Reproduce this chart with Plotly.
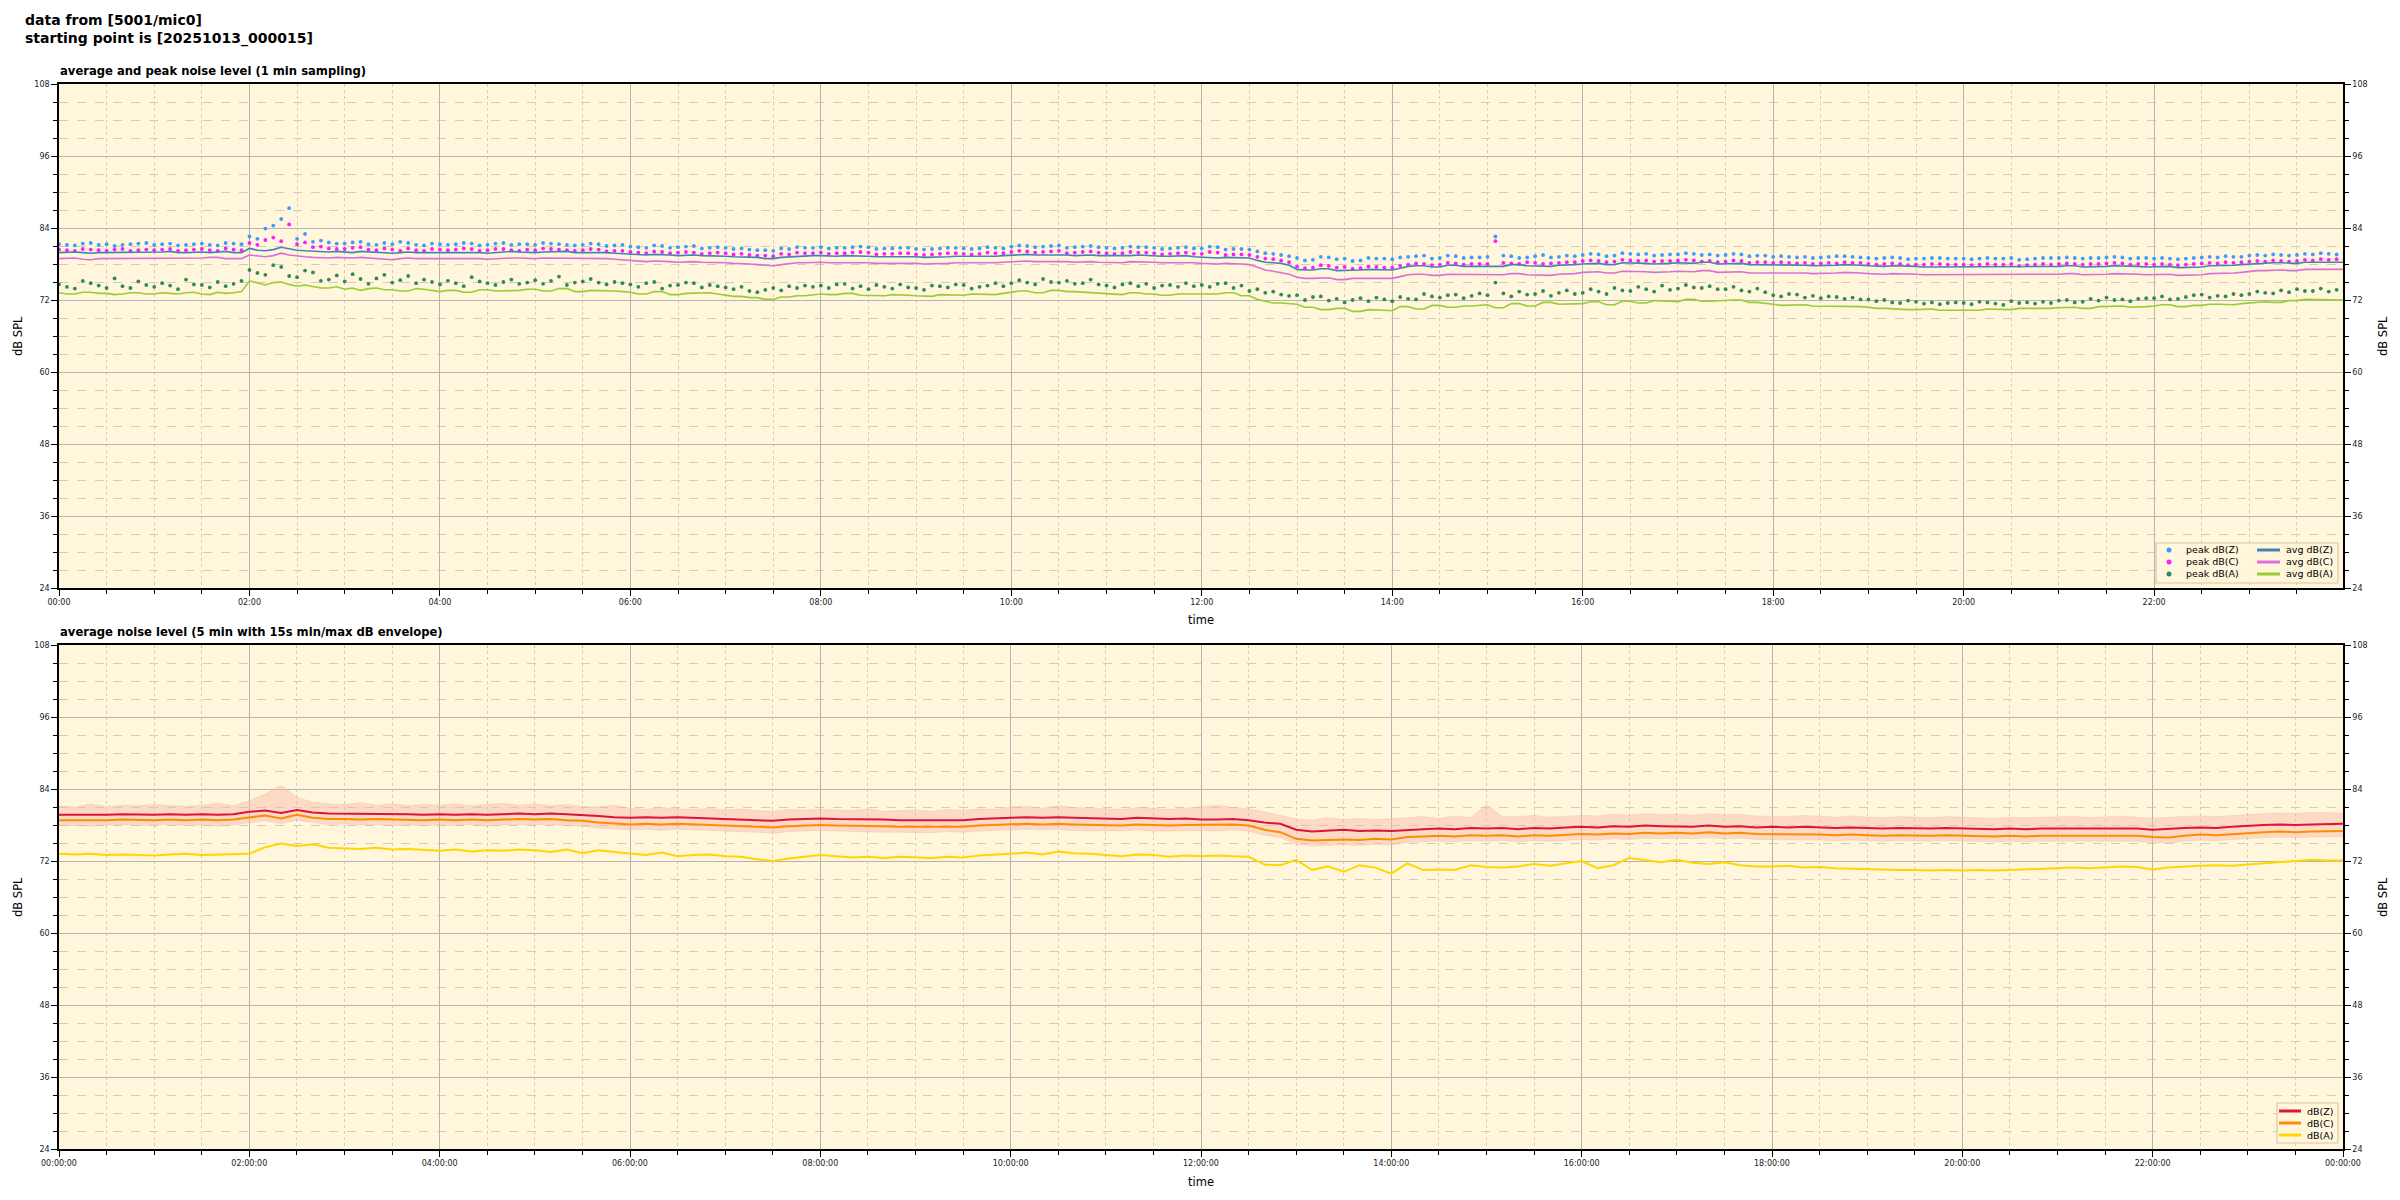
import pandas as pd
import plotly.graph_objects as go

W, H = 2400, 1200

# | data section |
# top panel : 5 min steps, bottom panel : 10 min steps (00:00 -> 24:00)
times5 = pd.date_range("2025-10-13 00:00", "2025-10-14 00:00", freq="5min")
times10 = pd.date_range("2025-10-13 00:00", "2025-10-14 00:00", freq="10min")

peak_z = [
    81.3, 81.2, 81.1, 81.4, 81.5, 81.2, 81.3, 81.0, 81.2, 81.3, 81.4, 81.5,
    81.2, 81.3, 81.4, 81.1, 81.2, 81.3, 81.4, 81.2, 81.1, 81.5, 81.4, 81.3,
    82.6, 82.2, 83.9, 84.4, 85.5, 87.3, 82.2, 83.0, 81.7, 81.9, 81.6, 81.4,
    81.4, 81.6, 81.7, 81.3, 81.2, 81.5, 81.3, 81.7, 81.5, 81.2, 81.1, 81.4,
    81.3, 81.2, 81.3, 81.5, 81.4, 81.1, 81.2, 81.4, 81.5, 81.2, 81.3, 81.3,
    81.2, 81.5, 81.4, 81.3, 81.2, 81.1, 81.2, 81.4, 81.3, 81.0, 81.1, 81.2,
    80.9, 80.8, 80.7, 81.1, 81.0, 80.7, 80.8, 80.9, 81.0, 80.6, 80.7, 80.8,
    80.7, 80.5, 80.6, 80.4, 80.3, 80.3, 80.2, 80.6, 80.5, 80.8, 80.7, 80.7,
    80.8, 80.6, 80.7, 80.7, 80.8, 80.9, 80.8, 80.5, 80.6, 80.6, 80.7, 80.7,
    80.5, 80.4, 80.5, 80.6, 80.7, 80.7, 80.6, 80.5, 80.6, 80.8, 80.7, 80.6,
    80.9, 81.1, 81.0, 80.8, 80.9, 81.0, 81.1, 80.7, 80.8, 80.9, 81.0, 80.8,
    80.7, 80.6, 80.7, 80.9, 80.8, 80.8, 80.7, 80.5, 80.6, 80.7, 80.8, 80.6,
    80.6, 80.9, 80.8, 80.4, 80.5, 80.5, 80.4, 80.1, 79.8, 79.7, 79.5, 79.3,
    79.0, 78.6, 78.7, 79.2, 79.1, 78.8, 78.9, 78.5, 78.6, 79.0, 78.9, 78.9,
    78.8, 79.1, 79.2, 79.3, 79.4, 78.9, 79.0, 79.4, 79.3, 79.0, 79.1, 79.1,
    79.2, 82.6, 79.4, 79.3, 79.0, 79.1, 79.3, 79.5, 79.1, 79.2, 79.4, 79.3,
    79.5, 79.7, 79.6, 79.3, 79.4, 79.8, 79.7, 79.6, 79.7, 79.4, 79.5, 79.6,
    79.6, 79.8, 79.7, 79.5, 79.6, 79.4, 79.5, 79.7, 79.6, 79.3, 79.4, 79.4,
    79.2, 79.3, 79.2, 79.1, 79.2, 79.0, 79.1, 79.2, 79.3, 79.3, 79.2, 79.1,
    79.0, 78.9, 79.0, 79.1, 79.0, 78.8, 78.9, 78.9, 79.0, 79.0, 78.9, 78.9,
    78.9, 78.8, 78.9, 79.0, 78.9, 78.9, 79.0, 78.7, 78.8, 78.9, 79.0, 79.0,
    79.0, 79.1, 79.0, 78.9, 79.0, 79.0, 79.1, 79.2, 79.1, 78.9, 79.0, 79.0,
    78.9, 79.0, 78.9, 78.8, 78.9, 79.0, 79.1, 79.2, 79.1, 79.3, 79.2, 79.2,
    79.4, 79.5, 79.4, 79.6, 79.5, 79.4, 79.5, 79.7, 79.6, 79.8, 79.7, 79.6, 79.8,
]
peak_c = [
    80.4, 80.3, 80.2, 80.5, 80.4, 80.3, 80.2, 80.4, 80.5, 80.2, 80.3, 80.4,
    80.3, 80.4, 80.5, 80.2, 80.3, 80.4, 80.5, 80.3, 80.2, 80.6, 80.4, 80.3,
    81.5, 81.2, 82.0, 82.4, 81.8, 84.6, 81.3, 81.6, 80.8, 80.9, 80.6, 80.5,
    80.5, 80.7, 80.8, 80.4, 80.3, 80.6, 80.4, 80.2, 80.6, 80.3, 80.2, 80.5,
    80.4, 80.3, 80.4, 80.6, 80.5, 80.2, 80.3, 80.5, 80.5, 80.3, 80.2, 80.4,
    80.3, 80.6, 80.5, 80.4, 80.3, 80.2, 80.3, 80.5, 80.4, 80.1, 80.2, 80.2,
    80.0, 79.9, 79.8, 80.1, 80.0, 79.8, 79.9, 80.0, 79.9, 79.7, 79.8, 79.9,
    79.8, 79.6, 79.7, 79.5, 79.4, 79.4, 79.3, 79.7, 79.6, 79.9, 79.8, 79.8,
    79.9, 79.7, 79.8, 79.8, 79.9, 80.0, 79.9, 79.6, 79.7, 79.7, 79.8, 79.8,
    79.6, 79.5, 79.6, 79.7, 79.8, 79.8, 79.7, 79.6, 79.7, 79.9, 79.8, 79.8,
    80.0, 80.2, 80.1, 79.9, 80.0, 80.1, 80.2, 79.8, 79.9, 80.0, 80.1, 79.9,
    79.8, 79.7, 79.8, 80.0, 79.9, 79.9, 79.8, 79.6, 79.7, 79.8, 79.9, 79.7,
    79.7, 80.0, 79.9, 79.5, 79.6, 79.6, 79.5, 79.2, 78.9, 78.8, 78.6, 78.3,
    77.6, 77.3, 77.4, 77.8, 77.7, 77.4, 77.5, 77.2, 77.3, 77.6, 77.5, 77.4,
    77.4, 77.7, 77.9, 78.1, 78.0, 77.8, 77.9, 78.2, 78.1, 77.9, 78.0, 78.0,
    78.0, 81.8, 78.2, 78.1, 78.0, 78.3, 78.2, 78.0, 78.1, 78.2, 78.3, 78.3,
    78.5, 78.6, 78.5, 78.3, 78.4, 78.7, 78.6, 78.5, 78.6, 78.4, 78.5, 78.5,
    78.6, 78.7, 78.6, 78.4, 78.5, 78.3, 78.4, 78.6, 78.5, 78.2, 78.3, 78.3,
    78.2, 78.3, 78.2, 78.1, 78.2, 78.0, 78.1, 78.2, 78.1, 78.3, 78.2, 78.2,
    78.0, 77.9, 78.0, 78.1, 78.0, 77.8, 77.9, 77.9, 78.0, 78.0, 77.9, 77.9,
    77.9, 77.8, 77.9, 78.0, 77.9, 77.9, 78.0, 77.7, 77.8, 77.9, 78.0, 77.9,
    78.0, 78.1, 78.0, 77.9, 78.0, 78.0, 78.1, 78.2, 78.1, 77.9, 78.0, 78.0,
    77.9, 78.0, 77.9, 77.8, 77.9, 78.0, 78.1, 78.2, 78.1, 78.3, 78.2, 78.3,
    78.4, 78.5, 78.4, 78.6, 78.5, 78.4, 78.5, 78.7, 78.6, 78.8, 78.7, 78.8, 78.8,
]
peak_a = [
    74.6, 74.2, 73.9, 75.2, 74.8, 74.4, 74.0, 75.6, 74.3, 74.0, 75.1, 74.5,
    74.2, 74.8, 74.4, 73.8, 75.4, 74.6, 74.5, 74.1, 75.0, 74.3, 74.7, 75.2,
    77.0, 76.5, 76.2, 77.8, 77.5, 76.0, 75.8, 76.9, 76.6, 75.2, 75.4, 76.1,
    75.1, 76.3, 75.5, 74.7, 75.6, 76.2, 74.9, 75.3, 76.0, 74.8, 75.4, 75.0,
    74.6, 75.2, 74.8, 74.3, 75.8, 75.1, 74.8, 74.5, 75.0, 75.4, 74.7, 74.9,
    75.3, 74.7, 75.2, 75.9, 74.5, 74.9, 75.1, 75.5, 74.9, 74.6, 75.0, 74.8,
    74.6, 74.2, 74.8, 75.0, 73.9, 74.4, 74.5, 74.9, 74.8, 74.1, 74.5, 74.3,
    74.1, 73.8, 74.2, 73.5, 73.3, 73.7, 74.0, 73.6, 74.3, 74.0, 74.4, 74.2,
    74.4, 74.0, 74.6, 74.7, 73.9, 74.3, 73.8, 74.5, 74.2, 73.9, 74.6, 74.1,
    74.0, 73.7, 74.4, 74.3, 74.1, 74.6, 74.5, 73.9, 74.2, 74.4, 74.8, 74.3,
    74.8, 75.3, 74.9, 74.6, 75.5, 75.0, 74.9, 75.2, 74.7, 74.8, 75.4, 74.6,
    74.4, 74.1, 74.6, 74.8, 74.3, 74.7, 74.0, 74.4, 74.5, 74.2, 74.8, 74.3,
    74.5, 74.2, 74.7, 74.8, 74.0, 74.4, 73.5, 73.8, 73.2, 73.4, 72.9, 72.7,
    72.8, 72.0, 72.5, 72.6, 71.9, 72.2, 71.6, 72.0, 72.3, 71.8, 72.4, 72.1,
    71.8, 72.5, 72.2, 72.1, 73.0, 72.6, 72.4, 72.8, 72.9, 72.3, 72.7, 73.1,
    72.8, 74.9, 73.1, 72.6, 73.4, 72.9, 73.0, 73.5, 72.7, 73.2, 73.6, 73.0,
    73.2, 73.8, 73.4, 73.0, 74.0, 73.6, 73.5, 74.2, 73.8, 73.4, 74.4, 73.7,
    73.9, 74.5, 74.1, 74.0, 74.3, 73.8, 73.8, 74.2, 73.6, 73.4, 73.9, 73.3,
    72.8, 72.6, 73.0, 72.9, 72.4, 72.7, 72.3, 72.6, 72.5, 72.2, 72.4, 72.1,
    72.1, 71.8, 72.0, 71.6, 71.5, 71.9, 71.7, 71.4, 71.6, 71.3, 71.5, 71.6,
    71.5, 71.3, 71.7, 71.6, 71.4, 71.2, 71.8, 71.5, 71.6, 71.4, 71.7, 71.5,
    71.9, 72.0, 71.6, 71.7, 72.2, 71.9, 72.4, 72.0, 72.1, 71.8, 72.2, 72.3,
    72.3, 72.6, 72.1, 72.2, 72.5, 72.8, 72.9, 72.4, 72.7, 72.6, 73.0, 72.8,
    73.0, 73.4, 73.2, 73.1, 73.6, 73.3, 73.8, 73.5, 73.5, 73.9, 73.4, 73.7, 73.5,
]
avg_z = [
    79.9, 80.0, 80.0, 79.9, 79.8, 79.9, 79.9, 80.0, 80.0, 79.9, 79.9, 80.0,
    79.9, 80.0, 80.1, 79.9, 79.9, 80.0, 80.0, 79.9, 80.0, 80.1, 79.9, 79.9,
    80.6, 80.3, 80.2, 80.4, 80.8, 80.5, 80.3, 80.2, 80.1, 80.0, 80.0, 80.1,
    80.0, 79.9, 80.1, 80.0, 79.9, 79.8, 79.8, 79.9, 80.0, 79.9, 79.9, 80.0,
    80.0, 79.9, 79.9, 80.0, 80.0, 79.9, 79.8, 79.9, 80.0, 80.1, 80.0, 79.9,
    79.9, 80.0, 80.0, 80.1, 80.1, 79.9, 79.9, 80.0, 80.0, 79.9, 79.8, 79.7,
    79.6, 79.5, 79.5, 79.6, 79.6, 79.5, 79.4, 79.5, 79.5, 79.4, 79.4, 79.3,
    79.3, 79.2, 79.2, 79.1, 79.1, 78.9, 78.9, 79.1, 79.2, 79.3, 79.3, 79.4,
    79.4, 79.3, 79.3, 79.4, 79.4, 79.3, 79.3, 79.2, 79.2, 79.3, 79.3, 79.2,
    79.2, 79.1, 79.1, 79.2, 79.2, 79.3, 79.3, 79.2, 79.2, 79.3, 79.3, 79.4,
    79.5, 79.6, 79.6, 79.5, 79.5, 79.6, 79.6, 79.5, 79.4, 79.5, 79.5, 79.4,
    79.4, 79.3, 79.3, 79.4, 79.5, 79.4, 79.4, 79.3, 79.3, 79.4, 79.4, 79.2,
    79.1, 79.0, 79.0, 79.1, 79.1, 79.0, 79.0, 78.6, 78.3, 78.2, 78.1, 77.8,
    77.1, 77.0, 77.0, 77.2, 77.2, 76.9, 76.9, 77.0, 77.0, 77.1, 77.1, 77.0,
    77.0, 77.3, 77.6, 77.7, 77.7, 77.5, 77.5, 77.8, 77.8, 77.6, 77.6, 77.7,
    77.7, 77.6, 77.6, 77.9, 77.9, 77.7, 77.7, 77.6, 77.6, 77.8, 77.8, 77.9,
    78.0, 78.1, 78.1, 77.9, 77.9, 78.2, 78.2, 78.1, 78.1, 78.0, 78.0, 78.1,
    78.2, 78.1, 78.1, 78.3, 78.3, 78.0, 78.0, 78.1, 78.1, 77.9, 77.9, 77.8,
    77.8, 77.9, 77.9, 77.8, 77.8, 77.7, 77.7, 77.8, 77.8, 77.9, 77.9, 77.8,
    77.7, 77.6, 77.6, 77.7, 77.7, 77.6, 77.6, 77.5, 77.5, 77.6, 77.6, 77.6,
    77.6, 77.5, 77.5, 77.6, 77.6, 77.5, 77.5, 77.6, 77.6, 77.5, 77.5, 77.6,
    77.6, 77.7, 77.7, 77.5, 77.5, 77.6, 77.6, 77.7, 77.7, 77.6, 77.6, 77.5,
    77.5, 77.6, 77.6, 77.4, 77.4, 77.5, 77.5, 77.7, 77.7, 77.8, 77.8, 77.9,
    78.0, 78.1, 78.1, 78.2, 78.2, 78.1, 78.1, 78.3, 78.3, 78.3, 78.3, 78.3, 78.3,
]
avg_c = [
    78.9, 79.0, 79.0, 78.8, 78.7, 78.9, 78.9, 79.0, 79.0, 78.9, 78.9, 79.0,
    78.9, 79.0, 79.0, 78.9, 78.9, 79.0, 79.0, 79.1, 79.1, 78.9, 78.9, 78.9,
    79.5, 79.3, 79.2, 79.4, 79.8, 79.5, 79.3, 79.2, 79.1, 79.0, 79.0, 79.1,
    79.0, 79.0, 79.1, 79.0, 78.9, 78.8, 78.7, 78.9, 79.0, 78.9, 78.9, 79.0,
    79.0, 78.9, 78.9, 79.0, 79.0, 78.9, 78.8, 78.9, 79.0, 79.0, 79.0, 78.9,
    78.9, 79.0, 79.0, 79.0, 79.0, 78.9, 78.9, 79.0, 79.0, 78.9, 78.8, 78.7,
    78.5, 78.4, 78.4, 78.5, 78.5, 78.4, 78.3, 78.4, 78.4, 78.3, 78.3, 78.2,
    78.2, 78.1, 78.1, 78.0, 77.9, 77.8, 77.7, 77.9, 78.1, 78.2, 78.2, 78.3,
    78.3, 78.2, 78.2, 78.3, 78.3, 78.2, 78.2, 78.1, 78.1, 78.2, 78.2, 78.1,
    78.1, 78.0, 78.0, 78.1, 78.1, 78.2, 78.2, 78.1, 78.1, 78.2, 78.2, 78.3,
    78.4, 78.5, 78.5, 78.4, 78.4, 78.5, 78.5, 78.4, 78.3, 78.4, 78.4, 78.3,
    78.3, 78.2, 78.2, 78.4, 78.4, 78.3, 78.3, 78.2, 78.2, 78.3, 78.3, 78.2,
    78.1, 78.0, 78.0, 78.1, 78.1, 78.0, 77.9, 77.4, 77.0, 76.8, 76.6, 76.3,
    75.8, 75.6, 75.6, 75.7, 75.7, 75.4, 75.4, 75.6, 75.6, 75.7, 75.7, 75.6,
    75.6, 75.9, 76.2, 76.3, 76.3, 76.1, 76.1, 76.3, 76.3, 76.2, 76.2, 76.3,
    76.3, 76.2, 76.2, 76.4, 76.4, 76.2, 76.2, 76.1, 76.1, 76.3, 76.3, 76.4,
    76.6, 76.7, 76.7, 76.5, 76.5, 76.8, 76.8, 76.7, 76.7, 76.6, 76.6, 76.7,
    76.8, 76.7, 76.7, 76.9, 76.9, 76.6, 76.6, 76.7, 76.7, 76.5, 76.5, 76.5,
    76.5, 76.6, 76.6, 76.5, 76.5, 76.4, 76.4, 76.5, 76.5, 76.6, 76.6, 76.5,
    76.4, 76.3, 76.3, 76.4, 76.4, 76.3, 76.3, 76.2, 76.2, 76.3, 76.3, 76.3,
    76.3, 76.2, 76.2, 76.3, 76.3, 76.2, 76.2, 76.3, 76.3, 76.2, 76.2, 76.3,
    76.3, 76.4, 76.4, 76.2, 76.2, 76.3, 76.3, 76.4, 76.4, 76.3, 76.3, 76.2,
    76.2, 76.3, 76.3, 76.1, 76.1, 76.2, 76.2, 76.4, 76.4, 76.5, 76.5, 76.6,
    76.8, 76.9, 76.9, 77.0, 77.0, 76.9, 76.9, 77.1, 77.1, 77.1, 77.1, 77.1, 77.1,
]
avg_a = [
    73.2, 73.0, 73.0, 73.3, 73.3, 73.1, 73.1, 72.9, 73.0, 73.2, 73.2, 73.0,
    73.0, 73.2, 73.1, 73.0, 73.2, 73.3, 73.0, 72.9, 73.3, 73.1, 73.2, 73.4,
    75.2, 74.8, 74.5, 74.9, 75.0, 74.6, 74.3, 74.5, 74.2, 74.0, 74.0, 74.2,
    73.8, 74.0, 73.6, 73.9, 74.0, 73.7, 73.7, 73.5, 73.5, 73.9, 73.8, 73.6,
    73.4, 73.6, 73.6, 73.3, 73.3, 73.7, 73.7, 73.5, 73.5, 73.6, 73.6, 73.8,
    73.8, 73.5, 73.5, 73.9, 73.9, 73.4, 73.4, 73.6, 73.6, 73.5, 73.5, 73.4,
    73.3, 73.0, 73.0, 73.4, 73.4, 72.9, 72.9, 73.1, 73.1, 73.2, 73.2, 73.0,
    72.8, 72.6, 72.6, 72.4, 72.4, 72.1, 72.1, 72.5, 72.5, 72.7, 72.7, 72.9,
    73.0, 72.9, 72.9, 73.1, 73.1, 72.8, 72.8, 72.7, 72.7, 72.9, 72.9, 72.8,
    72.7, 72.6, 72.6, 72.9, 72.9, 72.8, 72.8, 73.0, 73.0, 72.9, 72.9, 73.1,
    73.3, 73.5, 73.5, 73.2, 73.2, 73.6, 73.6, 73.4, 73.4, 73.3, 73.3, 73.2,
    73.1, 72.9, 72.9, 73.2, 73.2, 73.0, 73.0, 72.8, 72.8, 73.0, 73.0, 73.1,
    73.1, 73.0, 73.0, 73.2, 73.2, 72.7, 72.7, 72.1, 71.8, 71.5, 71.5, 71.4,
    71.3, 70.8, 70.8, 70.4, 70.4, 70.6, 70.6, 70.1, 70.1, 70.4, 70.4, 70.3,
    70.2, 70.9, 70.9, 70.5, 70.5, 71.1, 71.1, 70.8, 70.8, 71.0, 71.0, 71.1,
    71.2, 70.7, 70.7, 71.4, 71.4, 71.0, 71.0, 71.6, 71.6, 71.3, 71.3, 71.4,
    71.4, 71.7, 71.7, 71.2, 71.2, 71.8, 71.8, 71.5, 71.5, 71.9, 71.9, 71.8,
    71.7, 72.1, 72.1, 71.8, 71.8, 71.9, 71.9, 72.0, 72.0, 71.6, 71.6, 71.5,
    71.3, 71.1, 71.1, 71.2, 71.2, 71.0, 71.0, 70.9, 70.9, 71.0, 71.0, 70.9,
    70.8, 70.6, 70.6, 70.5, 70.5, 70.4, 70.4, 70.5, 70.5, 70.3, 70.3, 70.4,
    70.4, 70.3, 70.3, 70.5, 70.5, 70.4, 70.4, 70.6, 70.6, 70.5, 70.5, 70.6,
    70.7, 70.8, 70.8, 70.6, 70.6, 70.9, 70.9, 71.0, 71.0, 70.8, 70.8, 70.9,
    71.0, 71.2, 71.2, 70.9, 70.9, 71.1, 71.1, 71.3, 71.3, 71.2, 71.2, 71.4,
    71.5, 71.7, 71.7, 71.6, 71.6, 71.9, 71.9, 72.1, 72.1, 72.0, 72.0, 72.0, 72.0,
]

# bottom panel : 5 min averages + 15 s min/max envelope
db_z = [
    79.7, 79.7, 79.6, 79.7, 79.8, 79.7,
    79.7, 79.8, 79.7, 79.8, 79.7, 79.8,
    80.2, 80.4, 80.0, 80.5, 80.1, 79.9,
    79.9, 79.8, 79.9, 79.8, 79.8, 79.7,
    79.8, 79.7, 79.8, 79.7, 79.8, 79.9,
    79.8, 79.9, 79.8, 79.7, 79.5, 79.3,
    79.2, 79.3, 79.2, 79.3, 79.2, 79.1,
    79.1, 79.0, 78.8, 78.7, 78.9, 79.0,
    79.1, 79.0, 79.0, 78.9, 78.9, 78.8,
    78.8, 78.8, 78.9, 78.8, 79.0, 79.1,
    79.2, 79.3, 79.2, 79.3, 79.2, 79.1,
    79.1, 79.0, 79.2, 79.1, 79.0, 79.1,
    78.9, 78.9, 79.0, 78.8, 78.4, 78.2,
    77.2, 76.9, 77.1, 77.2, 77.0, 77.1,
    77.0, 77.2, 77.3, 77.4, 77.3, 77.5,
    77.4, 77.5, 77.3, 77.5, 77.4, 77.6,
    77.7, 77.6, 77.8, 77.7, 77.9, 77.8,
    77.8, 77.7, 77.9, 77.7, 77.8, 77.6,
    77.7, 77.6, 77.7, 77.6, 77.5, 77.6,
    77.5, 77.4, 77.5, 77.4, 77.4, 77.5,
    77.4, 77.4, 77.3, 77.4, 77.3, 77.4,
    77.4, 77.5, 77.4, 77.4, 77.5, 77.4,
    77.2, 77.4, 77.5, 77.6, 77.5, 77.7,
    77.9, 78.0, 78.1, 78.0, 78.1, 78.2, 78.2,
]
db_c = [
    78.8, 78.8, 78.7, 78.8, 78.9, 78.8,
    78.8, 78.9, 78.8, 78.9, 78.8, 78.9,
    79.3, 79.6, 79.1, 79.7, 79.2, 79.0,
    79.0, 78.9, 79.0, 78.9, 78.8, 78.8,
    78.9, 78.8, 78.9, 78.8, 78.9, 79.0,
    78.9, 79.0, 78.8, 78.7, 78.4, 78.2,
    78.1, 78.2, 78.1, 78.2, 78.1, 78.0,
    78.0, 77.9, 77.7, 77.6, 77.8, 77.9,
    78.0, 77.9, 77.9, 77.8, 77.8, 77.7,
    77.7, 77.7, 77.8, 77.7, 77.9, 78.0,
    78.1, 78.2, 78.1, 78.2, 78.1, 78.0,
    78.0, 77.9, 78.1, 78.0, 77.9, 78.0,
    78.0, 78.0, 78.1, 77.9, 77.2, 76.8,
    75.7, 75.4, 75.5, 75.6, 75.5, 75.7,
    75.6, 76.0, 76.1, 76.2, 76.1, 76.3,
    76.2, 76.3, 76.1, 76.3, 76.2, 76.4,
    76.5, 76.4, 76.6, 76.5, 76.7, 76.6,
    76.7, 76.6, 76.8, 76.6, 76.7, 76.5,
    76.5, 76.4, 76.5, 76.4, 76.3, 76.4,
    76.3, 76.2, 76.3, 76.2, 76.2, 76.3,
    76.2, 76.2, 76.1, 76.2, 76.1, 76.2,
    76.2, 76.3, 76.2, 76.2, 76.3, 76.2,
    76.0, 75.9, 76.2, 76.4, 76.3, 76.5,
    76.7, 76.8, 76.9, 76.8, 76.9, 77.0, 77.0,
]
db_a = [
    73.2, 73.1, 73.2, 73.0, 73.1, 73.0,
    72.9, 73.1, 73.2, 73.0, 73.1, 73.2,
    73.2, 74.3, 74.9, 74.5, 74.8, 74.2,
    74.1, 74.0, 74.2, 73.9, 74.0, 73.8,
    73.7, 73.9, 73.6, 73.8, 73.7, 73.9,
    73.8, 73.5, 73.9, 73.3, 73.8, 73.5,
    73.3, 73.0, 73.4, 72.8, 73.0, 73.1,
    72.8, 72.7, 72.3, 72.0, 72.4, 72.7,
    73.0, 72.8, 72.6, 72.7, 72.5, 72.7,
    72.6, 72.5, 72.7, 72.6, 72.9, 73.0,
    73.2, 73.4, 73.1, 73.6, 73.3, 73.2,
    73.0, 72.8, 73.1, 73.0, 72.7, 72.9,
    72.8, 72.9, 72.8, 72.7, 71.4, 71.3,
    72.2, 70.5, 71.1, 70.2, 71.3, 70.9,
    69.9, 71.6, 70.5, 70.6, 70.5, 71.3,
    71.0, 70.9, 71.1, 71.5, 71.2, 71.6,
    72.0, 70.8, 71.3, 72.5, 72.1, 71.8,
    72.2, 71.7, 71.5, 71.8, 71.3, 71.1,
    71.1, 71.2, 70.9, 71.0, 70.8, 70.7,
    70.7, 70.6, 70.5, 70.5, 70.4, 70.5,
    70.4, 70.5, 70.4, 70.5, 70.6, 70.6,
    70.7, 70.9, 70.8, 71.0, 71.1, 71.0,
    70.6, 70.9, 71.1, 71.2, 71.3, 71.2,
    71.4, 71.6, 71.9, 72.1, 72.2, 72.1, 72.1,
]
env_max = [
    81.2, 81.0, 81.5, 81.1, 81.3, 81.2,
    81.4, 81.2, 81.1, 81.3, 81.6, 81.2,
    82.0, 83.2, 84.6, 82.6, 81.8, 81.5,
    81.4, 81.7, 81.3, 81.5, 81.2, 81.4,
    81.3, 81.5, 81.2, 81.4, 81.6, 81.3,
    81.5, 81.2, 81.4, 81.1, 81.0, 81.3,
    80.8, 80.6, 80.9, 80.7, 80.6, 80.8,
    80.5, 80.7, 80.4, 80.3, 80.6, 80.5,
    80.6, 80.5, 80.4, 80.7, 80.3, 80.4,
    80.5, 80.3, 80.6, 80.4, 80.7, 80.6,
    81.0, 81.1, 80.8, 81.2, 80.9, 80.8,
    80.7, 80.6, 80.9, 80.7, 80.6, 80.8,
    81.0, 81.3, 80.9, 80.7, 80.2, 79.6,
    79.0, 78.8, 79.2, 78.9, 79.1, 78.9,
    79.0, 79.2, 79.4, 79.1, 79.5, 79.2,
    81.4, 79.4, 79.4, 79.6, 79.3, 79.5,
    79.6, 79.5, 79.8, 79.6, 79.9, 79.7,
    79.8, 79.6, 79.9, 79.7, 79.8, 79.5,
    79.5, 79.4, 79.6, 79.4, 79.3, 79.5,
    79.3, 79.2, 79.4, 79.3, 79.2, 79.4,
    79.3, 79.2, 79.1, 79.3, 79.2, 79.3,
    79.3, 79.4, 79.2, 79.3, 79.5, 79.3,
    79.1, 79.3, 79.4, 79.5, 79.4, 79.6,
    79.8, 79.9, 80.0, 79.9, 80.1, 80.1, 80.0,
]
env_min = [
    78.0, 77.9, 77.8, 78.0, 78.1, 77.9,
    78.0, 78.1, 77.9, 78.0, 77.8, 78.0,
    78.4, 78.7, 78.2, 78.8, 78.4, 78.1,
    78.2, 78.0, 78.1, 77.9, 78.0, 77.9,
    78.0, 77.9, 78.1, 77.8, 78.0, 78.1,
    78.0, 78.1, 77.9, 77.8, 77.5, 77.3,
    77.2, 77.3, 77.1, 77.3, 77.2, 77.1,
    77.1, 76.9, 76.8, 76.6, 76.9, 77.0,
    77.1, 77.0, 76.9, 76.9, 76.8, 76.8,
    76.8, 76.7, 76.9, 76.8, 77.0, 77.1,
    77.2, 77.3, 77.2, 77.3, 77.1, 77.0,
    77.1, 77.0, 77.2, 77.0, 77.0, 77.1,
    77.1, 77.0, 77.2, 77.0, 76.3, 75.9,
    74.8, 74.5, 74.6, 74.7, 74.6, 74.8,
    74.7, 75.1, 75.2, 75.3, 75.2, 75.4,
    75.3, 75.4, 75.2, 75.4, 75.3, 75.5,
    75.6, 75.5, 75.7, 75.6, 75.8, 75.7,
    75.8, 75.7, 75.9, 75.7, 75.8, 75.6,
    75.6, 75.5, 75.6, 75.5, 75.4, 75.5,
    75.4, 75.3, 75.4, 75.3, 75.3, 75.4,
    75.3, 75.3, 75.2, 75.3, 75.2, 75.3,
    75.3, 75.4, 75.3, 75.3, 75.4, 75.3,
    75.1, 75.0, 75.3, 75.5, 75.4, 75.6,
    75.8, 75.9, 76.0, 75.9, 76.0, 76.1, 76.1,
]

y_ticks = [24, 36, 48, 60, 72, 84, 96, 108]

top_peaks = [("peak dB(Z)", peak_z, "#3d9bff"),
             ("peak dB(C)", peak_c, "#ff1aff"),
             ("peak dB(A)", peak_a, "#2e8b57")]
top_avgs = [("avg dB(Z)", avg_z, "#4682b4"),
            ("avg dB(C)", avg_c, "#da70d6"),
            ("avg dB(A)", avg_a, "#9acd32")]
bottom_lines = [("dB(Z)", db_z, "#dc143c"),
                ("dB(C)", db_c, "#ff8c00"),
                ("dB(A)", db_a, "#ffd700")]


# | layout helpers |
def px(x):
    return x / W


def py(y):
    return 1 - y / H


FONT = "DejaVu Sans"
BG = "#fff6dc"
X_DOM = [px(59), px(2343)]
TOP_DOM = [py(588), py(84)]
BOT_DOM = [py(1149), py(645)]

fig = go.Figure()

# --- top panel : peaks as dots
for name, vals, col in top_peaks:
    fig.add_trace(go.Scatter(
        x=times5, y=vals, mode="markers", name=name,
        marker=dict(color=col, size=3.8),
        xaxis="x", yaxis="y", showlegend=False, hoverinfo="skip",
    ))

# --- top panel : averages as lines
for name, vals, col in top_avgs:
    fig.add_trace(go.Scatter(
        x=times5, y=vals, mode="lines", name=name,
        line=dict(color=col, width=1.6),
        xaxis="x", yaxis="y", showlegend=False, hoverinfo="skip",
    ))

# --- bottom panel : min / max envelope
fig.add_trace(go.Scatter(
    x=times10, y=env_min, mode="lines", line=dict(color="rgba(245,170,150,0.5)", width=0.6),
    showlegend=False, xaxis="x2", yaxis="y2", hoverinfo="skip",
))
fig.add_trace(go.Scatter(
    x=times10, y=env_max, mode="lines", line=dict(color="rgba(245,170,150,0.5)", width=0.6),
    fill="tonexty", fillcolor="rgba(248,185,165,0.45)",
    showlegend=False, xaxis="x2", yaxis="y2", hoverinfo="skip",
))

# --- bottom panel : 5 min averages
for name, vals, col in bottom_lines:
    fig.add_trace(go.Scatter(
        x=times10, y=vals, mode="lines", name=name,
        line=dict(color=col, width=2),
        xaxis="x2", yaxis="y2", showlegend=False, hoverinfo="skip",
    ))

# invisible traces so the twin (right hand) axes get drawn
for ya, xa in [("y3", "x"), ("y4", "x2")]:
    fig.add_trace(go.Scatter(
        x=times10[:1], y=[db_z[0]], mode="markers", marker=dict(opacity=0),
        showlegend=False, xaxis=xa, yaxis=ya, hoverinfo="skip",
    ))

# | axes section |
tick_font = dict(family=FONT, size=8, color="#222222")


def x_axis(anchor, rng, fmt):
    return dict(
        type="date", range=rng, domain=X_DOM, anchor=anchor,
        tick0="2025-10-13 00:00", dtick=2 * 3600 * 1000, tickformat=fmt,
        showline=True, linecolor="black", linewidth=1.5, mirror=True,
        ticks="outside", ticklen=6, tickwidth=1, tickcolor="black",
        showgrid=True, gridcolor="#b4b4b4", gridwidth=1.4, zeroline=False,
        minor=dict(dtick=30 * 60 * 1000, showgrid=True, gridcolor="#d2ccba",
                   griddash="dot", gridwidth=0.8, ticks="outside", ticklen=4,
                   tickcolor="black"),
        tickfont=tick_font, automargin=False,
    )


def y_axis(dom, anchor, side="left", overlay=None, grid=True):
    d = dict(
        range=[24, 108], domain=dom, anchor=anchor, side=side,
        tickvals=y_ticks, showline=True, linecolor="black", linewidth=1.5,
        ticks="outside", ticklen=6, tickcolor="black",
        showgrid=grid, gridcolor="#b4b4b4", gridwidth=1.4, zeroline=False,
        minor=dict(dtick=3, tick0=24, showgrid=grid, gridcolor="#d2ccba",
                   griddash="dash", gridwidth=0.8, ticks="outside", ticklen=4,
                   tickcolor="black"),
        tickfont=tick_font, automargin=False, fixedrange=True,
    )
    if overlay:
        d["overlaying"] = overlay
    return d


fig.update_layout(
    width=W, height=H,
    margin=dict(l=0, r=0, t=0, b=0),
    paper_bgcolor="white", plot_bgcolor=BG,
    font=dict(family=FONT, color="black"),
    xaxis=x_axis("y", ["2025-10-13 00:00", "2025-10-13 23:59"], "%H:%M"),
    xaxis2=x_axis("y2", ["2025-10-13 00:00", "2025-10-14 00:00"], "%H:%M:%S"),
    yaxis=y_axis(TOP_DOM, "x"),
    yaxis2=y_axis(BOT_DOM, "x2"),
    yaxis3=y_axis(TOP_DOM, "x", side="right", overlay="y", grid=False),
    yaxis4=y_axis(BOT_DOM, "x2", side="right", overlay="y2", grid=False),
    showlegend=False,
)


# | legend section | (matplotlib style boxes, drawn by hand)
def legend_box(x0, x1, y0, y1):
    fig.add_shape(type="rect", xref="paper", yref="paper",
                  x0=px(x0), x1=px(x1), y0=py(y1), y1=py(y0),
                  line=dict(color="#dcc7a0", width=1.2),
                  fillcolor="rgba(255,246,220,0.85)", layer="above")


def legend_text(x, y, txt):
    fig.add_annotation(text=txt, xref="paper", yref="paper", x=px(x), y=py(y),
                       xanchor="left", yanchor="middle", showarrow=False,
                       font=dict(family=FONT, size=9.5, color="black"))


def legend_line(x0, x1, y, col):
    fig.add_shape(type="line", xref="paper", yref="paper", x0=px(x0), x1=px(x1),
                  y0=py(y), y1=py(y), line=dict(color=col, width=3), layer="above")


def legend_dot(x, y, col):
    fig.add_shape(type="circle", xref="paper", yref="paper",
                  x0=px(x - 2.5), x1=px(x + 2.5), y0=py(y + 2.5), y1=py(y - 2.5),
                  line=dict(width=0), fillcolor=col, layer="above")


rows_top = [550, 562, 574]
legend_box(2156, 2338, 543, 583)
for (name, _, col), yy in zip(top_peaks, rows_top):
    legend_dot(2169, yy, col)
    legend_text(2184, yy, name)
for (name, _, col), yy in zip(top_avgs, rows_top):
    legend_line(2257, 2280, yy, col)
    legend_text(2284, yy, name)

rows_bot = [1111, 1123, 1135]
legend_box(2277, 2338, 1103, 1143)
for (name, _, col), yy in zip(bottom_lines, rows_bot):
    legend_line(2279, 2301, yy, col)
    legend_text(2305, yy, name)

# | text section |
fig.add_annotation(
    text="<b>data from [5001/mic0]<br>starting point is [20251013_000015]</b>",
    xref="paper", yref="paper", x=px(23), y=py(10), xanchor="left", yanchor="top",
    align="left", showarrow=False, font=dict(family=FONT, size=14),
)
for title, ypos in [("average and peak noise level (1 min sampling)", 71),
                    ("average noise level (5 min with 15s min/max dB envelope)", 632)]:
    fig.add_annotation(text=f"<b>{title}</b>", xref="paper", yref="paper",
                       x=px(58), y=py(ypos), xanchor="left", yanchor="middle",
                       showarrow=False, font=dict(family=FONT, size=11.6))
for ypos in [620, 1182]:
    fig.add_annotation(text="time", xref="paper", yref="paper", x=px(1201), y=py(ypos),
                       xanchor="center", yanchor="middle", showarrow=False,
                       font=dict(family=FONT, size=11.5))
for ycen in [336, 897]:
    for xpos in [18, 2383]:
        fig.add_annotation(text="dB SPL", xref="paper", yref="paper", x=px(xpos), y=py(ycen),
                           xanchor="center", yanchor="middle", textangle=-90, showarrow=False,
                           font=dict(family=FONT, size=11.5))

# the page body keeps its default 8px margin otherwise
fig.write_html("out.html", config={"displayModeBar": False},
               post_script="document.body.style.margin = '0';")
